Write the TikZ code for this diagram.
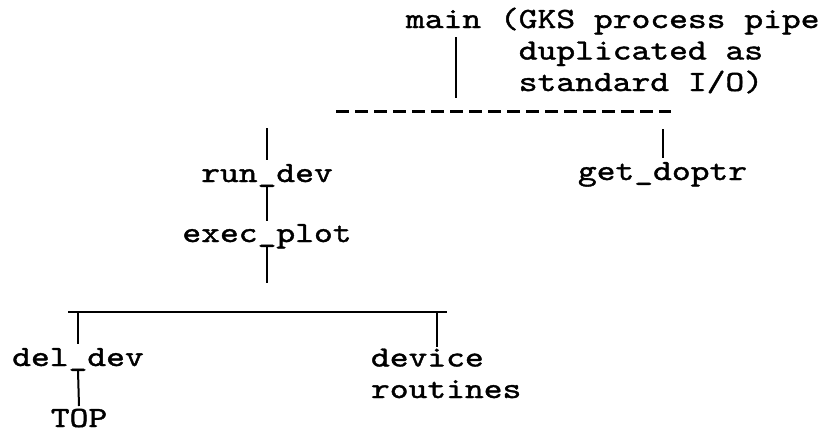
\documentclass[tikz,border=0pt]{standalone}
\usepackage{fontspec}
\usepackage{graphicx}
\usetikzlibrary{calc}
\newfontfamily\typewriter[Extension=.otf, FakeBold=1.2]{lmmono10-regular}
% typed labels: Latin Modern Mono, slightly squat like a typewriter face
\newcommand{\tw}[1]{\scalebox{1}[0.82]{#1}}
\tikzset{
  typed/.style={inner sep=0pt, outer sep=0pt,
    font=\typewriter\fontsize{35.8}{31.5}\selectfont},
  link/.style={line width=2pt, black},
  dashbus/.style={line width=3pt, black, dash pattern=on 12.5pt off 6.5pt},
  solidbus/.style={line width=2.8pt, black},
}
\begin{document}
\begin{tikzpicture}[x=1pt, y=-1pt]
  \fill[white] (0,0) rectangle (832,434);
  \useasboundingbox (0,0) rectangle (832,434);

  % ---- labels (multi-line nodes sit on the baseline of their last line)
  \node[typed, anchor=base west] (main) at (406,28) {\tw{main}};
  \node[typed, anchor=base west, align=left] (note) at (500,91)
    {\tw{(GKS process pipe}\\\tw{\ duplicated as}\\\tw{\ standard I/O)}};
  \node[typed, anchor=base] (rundev)   at (267,182)   {\tw{run\_dev}};
  \node[typed, anchor=base] (getdoptr) at (662.5,180) {\tw{get\_doptr}};
  \node[typed, anchor=base] (execplot) at (267,242)   {\tw{exec\_plot}};
  \node[typed, anchor=base] (deldev)   at (78,366)    {\tw{del\_dev}};
  \node[typed, anchor=base west, align=left] (devrout) at (371,398)
    {\tw{device}\\\tw{routines}};
  \node[typed, anchor=base] (top)      at (79,427)    {\tw{TOP}};

  % ---- call buses ---------------------------------------------------
  \coordinate (busA-l) at (336,111);
  \coordinate (busA-r) at (671,111);
  \coordinate (busB-l) at (68,312);
  \coordinate (busB-r) at (447,312);
  \draw[dashbus]  (busA-l) -- (busA-r);
  \draw[solidbus] (busB-l) -- (busB-r);

  % ---- connectors ---------------------------------------------------
  \draw[link] ($(main.base)+(12.4,9)$) -- ($(busA-l -| main.base)+(12.4,-13)$);
  \draw[link] ($(busA-l -| rundev.base)+(0,17)$)   -- ($(rundev.base)+(0,-22)$);
  \draw[link] ($(busA-l -| getdoptr.base)+(0,18)$) -- ($(getdoptr.base)+(0,-22)$);
  \draw[link] ($(rundev.base)+(0,5)$)   -- ($(execplot.base)+(0,-21)$);
  \draw[link] ($(execplot.base)+(0,5)$) -- ($(busB-l -| execplot.base)+(0,-29)$);
  \draw[link] (busB-l -| deldev.base) -- ($(deldev.base)+(0,-22)$);
  \draw[link] ($(busB-l -| devrout.base west)+(65.8,0)$) -- ($(devrout.base west)+(65.8,-51)$);
  \draw[link] ($(deldev.base)+(0,5)$) -- ($(top.base)+(0,-21)$);
\end{tikzpicture}
\end{document}
